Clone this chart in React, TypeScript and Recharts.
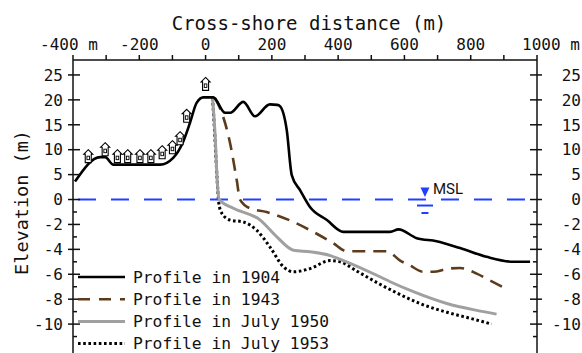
import React from "react";
import {
  LineChart,
  Line,
  XAxis,
  YAxis,
  ReferenceLine,
  ReferenceDot,
  Legend,
} from "recharts";

// cross-shore distance (m) and elevation (m)
const profile1904X = [-394, -318, -303, -278, -137, -97, -67, -47, -27, -7, 23, 59, 74, 114, 149, 194, 216, 225, 245, 260, 285, 315, 366, 416, 557, 582, 637, 697, 768, 848, 929, 979];
const profile1904Y = [3.6, 8.5, 8.5, 7.0, 7.0, 8.4, 11.7, 15.4, 19.4, 20.5, 20.5, 17.4, 17.4, 19.6, 16.7, 19.1, 19.0, 18.7, 13.9, 4.9, 1.9, -0.6, -1.65, -2.6, -2.6, -2.4, -3.1, -3.35, -3.9, -4.6, -5.0, -5.0];

const profile1943X = [28, 49, 74, 94, 104, 134, 184, 265, 325, 385, 426, 547, 587, 617, 657, 687, 733, 768, 818, 858, 914];
const profile1943Y = [20.4, 17.4, 11.3, 3.9, 0, -0.7, -1.0, -1.8, -2.6, -3.5, -4.15, -4.15, -4.9, -5.3, -5.8, -5.8, -5.55, -5.5, -5.95, -6.5, -7.25];

const profile1950X = [21, 29, 35, 41, 84, 165, 215, 265, 315, 376, 416, 526, 557, 627, 728, 818, 878];
const profile1950Y = [20.4, 12.7, 3.9, 0, -0.7, -1.65, -3.0, -4.07, -4.2, -4.5, -4.9, -6.2, -6.6, -7.4, -8.35, -8.9, -9.2];

const profile1953X = [21, 28, 35, 40, 49, 74, 114, 154, 194, 235, 265, 315, 376, 406, 460, 526, 577, 647, 728, 808, 863];
const profile1953Y = [20.4, 12.7, 3.9, -0.3, -1.1, -1.65, -1.8, -2.46, -3.8, -5.4, -5.8, -5.55, -4.9, -5.0, -5.8, -6.8, -7.5, -8.35, -9.05, -9.6, -10.0];

// house markers above the 1904 dune
const houseX = [-354, -303, -266, -235, -198, -165, -131, -100, -77, -57, 0];
const houseY = [8.6, 10.0, 8.6, 8.6, 8.6, 8.6, 9.4, 10.4, 12.2, 16.7, 23.1];

const mslX = 662;

const distanceTicks = [-400, -300, -200, -100, 0, 100, 200, 300, 400, 500, 600, 700, 800, 900, 1000];
const elevationTicks = [25, 20, 15, 10, 5, 0, -2, -4, -6, -8, -10];
const elevationMinorTicks = [-1, -3, -5, -7, -9, -11];

// the vertical axis is stretched 2.5x below MSL
const toAxis = (v: number) => (v >= 0 ? v : v * 2.5);
const fromAxis = (v: number) => (v >= 0 ? v : v / 2.5);

const build = (xs: number[], ys: number[]) => xs.map((x, i) => ({ x, y: toAxis(ys[i]) }));

const legendItems = [
  { name: "Profile in 1904", color: "#000", width: 2.6, dash: undefined },
  { name: "Profile in 1943", color: "#5c3c1c", width: 2.6, dash: "12 9" },
  { name: "Profile in July 1950", color: "#a0a0a0", width: 3, dash: undefined },
  { name: "Profile in July 1953", color: "#000", width: 3, dash: "2.6 2.6" },
];

const FONT = "'DejaVu Sans Mono', monospace";
const BLUE = "#2040ff";

export default function App() {
  const yTicks = [...elevationTicks, ...elevationMinorTicks].map(toAxis);

  return (
    <div style={{ position: "absolute", left: 0, top: 0 }}>
      <LineChart width={582} height={353} margin={{ top: 0, right: 0, bottom: 0, left: 0 }}>
        <XAxis
          dataKey="x"
          type="number"
          orientation="top"
          domain={[-400, 1000]}
          ticks={distanceTicks}
          interval={0}
          allowDataOverflow
          height={60}
          tickSize={0}
          tickMargin={0}
          tickLine={false}
          axisLine={{ stroke: "#111", strokeWidth: 1.5 }}
          tick={<DistanceTick />}
          label={<TopTitle />}
        />
        <YAxis
          yAxisId="left"
          type="number"
          domain={[-30.8, 28]}
          ticks={yTicks}
          interval={0}
          allowDataOverflow
          width={73}
          tickSize={0}
          tickMargin={0}
          tickLine={false}
          axisLine={{ stroke: "#111", strokeWidth: 1.5 }}
          tick={<ElevationTick side="left" />}
          label={<SideTitle />}
        />
        <YAxis
          yAxisId="right"
          orientation="right"
          type="number"
          domain={[-30.8, 28]}
          ticks={yTicks}
          interval={0}
          allowDataOverflow
          width={45}
          tickSize={0}
          tickMargin={0}
          tickLine={false}
          axisLine={{ stroke: "#111", strokeWidth: 1.5 }}
          tick={<ElevationTick side="right" />}
        />

        <ReferenceLine
          yAxisId="left"
          segment={[{ x: -385, y: 0 }, { x: 985, y: 0 }]}
          stroke={BLUE}
          strokeWidth={2}
          strokeDasharray="18 15"
        />

        <Line yAxisId="left" data={build(profile1953X, profile1953Y)} dataKey="y" type="monotone" stroke="#000" strokeWidth={3} strokeDasharray="2.6 2.6" dot={false} activeDot={false} isAnimationActive={false} />
        <Line yAxisId="left" data={build(profile1950X, profile1950Y)} dataKey="y" type="monotone" stroke="#a0a0a0" strokeWidth={3} dot={false} activeDot={false} isAnimationActive={false} />
        <Line yAxisId="left" data={build(profile1943X, profile1943Y)} dataKey="y" type="monotone" stroke="#5c3c1c" strokeWidth={2.6} strokeDasharray="13 8" dot={false} activeDot={false} isAnimationActive={false} />
        <Line yAxisId="left" data={build(profile1904X, profile1904Y)} dataKey="y" type="monotone" stroke="#000" strokeWidth={2.6} dot={false} activeDot={false} isAnimationActive={false} />

        {houseX.map((hx, i) => (
          <ReferenceDot key={i} yAxisId="left" x={hx} y={toAxis(houseY[i])} shape={(p: any) => <House cx={p.cx} cy={p.cy} />} />
        ))}
        <ReferenceDot yAxisId="left" x={mslX} y={0} shape={(p: any) => <MslMark cx={p.cx} cy={p.cy} />} />

        <Legend
          layout="vertical"
          align="center"
          verticalAlign="middle"
          content={<LegendBox />}
          wrapperStyle={{ left: 73, top: 266, width: 270, height: 90 }}
        />
      </LineChart>
    </div>
  );
}

/* ------------------------------------------------------------------ */

function DistanceTick({ x, y, payload }: any) {
  const v = payload.value;
  const major = v % 200 === 0;
  let text = String(v);
  let dx = 0;
  if (v === -400) {
    text = "-400 m";
    dx = -4;
  } else if (v === 1000) {
    text = "1000 m";
    dx = 14;
  }
  return (
    <g>
      <line x1={x} x2={x} y1={y} y2={y - 5} stroke="#111" strokeWidth={1.5} />
      {major && (
        <text x={x + dx} y={y - 10.5} textAnchor="middle" fontFamily={FONT} fontSize={16} fill="#111">
          {text}
        </text>
      )}
    </g>
  );
}

function ElevationTick({ x, y, payload, side }: any) {
  const raw = Math.round(fromAxis(payload.value) * 10) / 10;
  const major = elevationTicks.includes(raw);
  const dir = side === "left" ? 1 : -1;
  return (
    <g>
      {major ? (
        <line x1={x - 5 * dir} x2={x + 7 * dir} y1={y} y2={y} stroke="#111" strokeWidth={1.5} />
      ) : (
        <line x1={x} x2={x + 4 * dir} y1={y} y2={y} stroke="#111" strokeWidth={1.5} />
      )}
      {major && (
        <text
          x={side === "left" ? x - 10 : x + 44}
          y={y}
          dy="0.36em"
          textAnchor="end"
          fontFamily={FONT}
          fontSize={16}
          fill="#111"
        >
          {raw}
        </text>
      )}
    </g>
  );
}

function TopTitle({ viewBox }: any) {
  const { x, y, width } = viewBox;
  return (
    <text x={x + width / 2 + 4} y={y + 30} textAnchor="middle" fontFamily={FONT} fontSize={19} fill="#111">
      Cross-shore distance (m)
    </text>
  );
}

function SideTitle({ viewBox }: any) {
  const { x, y, height } = viewBox;
  const cx = x + 28;
  const cy = y + height / 2 - 4;
  return (
    <text
      x={cx}
      y={cy}
      transform={`rotate(-90 ${cx} ${cy})`}
      textAnchor="middle"
      fontFamily={FONT}
      fontSize={18.5}
      fill="#111"
    >
      Elevation (m)
    </text>
  );
}

function House({ cx, cy }: { cx: number; cy: number }) {
  return (
    <g transform={`translate(${cx},${cy})`}>
      <path d="M0,-7 L4.5,-2.5 L3,-2.5 L3,6 L-3,6 L-3,-2.5 L-4.5,-2.5 Z" fill="#fff" stroke="#000" strokeWidth={1.1} />
      <rect x={-1.3} y={-0.5} width={2.6} height={3.5} fill="none" stroke="#000" strokeWidth={0.9} />
    </g>
  );
}

function MslMark({ cx, cy }: { cx: number; cy: number }) {
  return (
    <g>
      <path d={`M${cx - 4.5},${cy - 12} L${cx + 4.5},${cy - 12} L${cx},${cy - 2.5} Z`} fill={BLUE} />
      <line x1={cx - 8} x2={cx + 8} y1={cy + 6} y2={cy + 6} stroke={BLUE} strokeWidth={2} />
      <line x1={cx - 3.5} x2={cx + 3.5} y1={cy + 13.5} y2={cy + 13.5} stroke={BLUE} strokeWidth={2} />
      <text x={cx + 8} y={cy - 6} fontFamily="Roboto, sans-serif" fontSize={15} fill="#111">
        MSL
      </text>
    </g>
  );
}

function LegendBox() {
  return (
    <svg width={270} height={90}>
      {legendItems.map((item, i) => {
        const y = 11 + i * 22.2;
        return (
          <g key={item.name}>
            <line x1={5} x2={52} y1={y} y2={y} stroke={item.color} strokeWidth={item.width} strokeDasharray={item.dash} />
            <text x={60} y={y} dy="0.36em" fontFamily={FONT} fontSize={16.3} fill="#111">
              {item.name}
            </text>
          </g>
        );
      })}
    </svg>
  );
}
